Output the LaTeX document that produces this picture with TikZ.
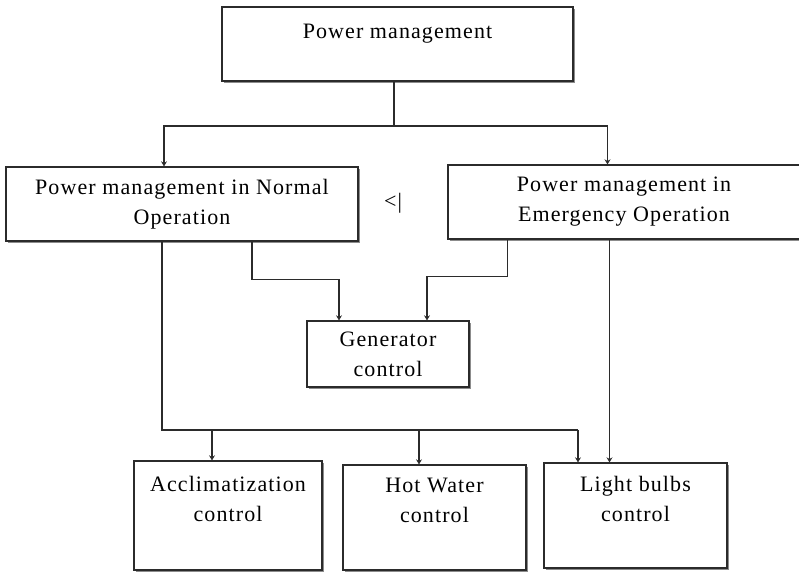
\documentclass[tikz,border=0pt]{standalone}
\usepackage{fontspec}
\setmainfont{Liberation Serif}[LetterSpace=5]
\usetikzlibrary{arrows.meta, shadows}
\definecolor{cline}{HTML}{2B2B2B}
\definecolor{cshadow}{HTML}{8C8C8C}
\tikzset{
  every picture/.style={line width=1.3pt, x=1pt, y=-1pt},
  box/.style={draw=cline, fill=white, align=center, inner sep=0pt,
    font=\fontsize{22}{30}\selectfont,
    drop shadow={shadow xshift=2pt, shadow yshift=-2pt, fill=cshadow, opacity=1}},
  arrow/.style={-{Stealth[length=5pt, width=6pt]}, draw=cline},
  wire/.style={draw=cline},
  note/.style={font=\fontsize{22}{30}\selectfont, inner sep=0pt},
}

\begin{document}
\begin{tikzpicture}
  \clip (0,0) rectangle (799,571);
  \node[box, minimum width=351pt, minimum height=74pt] (top) at (397.5,44) {Power management\\[-14pt]\strut};
  \node[box, minimum width=352pt, minimum height=74pt] (nop) at (182,204) {Power management in Normal\\Operation};
  \node[box, minimum width=352pt, minimum height=74pt] (emo) at (624,202) {Power management in\\Emergency Operation};
  \node[note] (sep) at (393,203) {<|};
  \node[box, minimum width=162pt, minimum height=66pt] (gen) at (388,354) {Generator\\control};
  \node[box, minimum width=188pt, minimum height=109pt] (acc) at (228,515.5) {Acclimatization\\control\\[-5pt]\strut};
  \node[box, minimum width=183pt, minimum height=105pt] (hot) at (434.5,517.5) {Hot Water\\control\\[-5pt]\strut};
  \node[box, minimum width=183pt, minimum height=105pt] (light) at (635.5,515.5) {Light bulbs\\control\\[-5pt]\strut};

  \coordinate (bus1) at (394,126);
  \coordinate (bus2) at (578,430);
  \coordinate (accin) at ([xshift=-16pt]acc.north);
  \coordinate (hotin) at ([xshift=-15.5pt]hot.north);
  \coordinate (emoout) at ([xshift=-14.5pt]emo.south);

  \draw[wire] (bus1 |- top.south) -- (bus1);
  \draw[arrow] (bus1) -| ([xshift=-18pt]nop.north);
  \draw[arrow] (bus1) -| ([xshift=-16.5pt]emo.north);
  \draw[arrow] ([xshift=70pt]nop.south) -- ++(0,38) -| ([xshift=-49pt]gen.north);
  \draw[arrow] ([xshift=-116.5pt]emo.south) -- ++(0,37) -| ([xshift=39pt]gen.north);
  \draw[wire] ([xshift=-20pt]nop.south) |- (bus2);
  \draw[arrow] (bus2) -- (bus2 |- light.north);
  \draw[arrow] (accin |- bus2) -- (accin);
  \draw[arrow] (hotin |- bus2) -- (hotin);
  \draw[arrow] (emoout) -- (emoout |- light.north);
\end{tikzpicture}
\end{document}
